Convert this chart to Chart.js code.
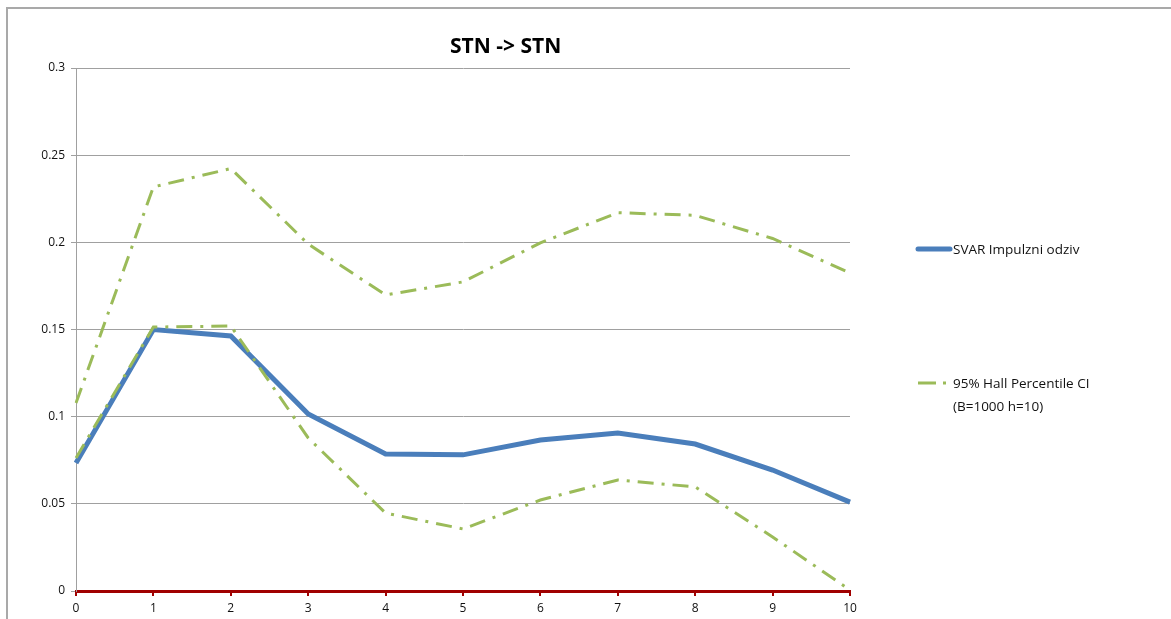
<!DOCTYPE html>
<html lang="sr">
<head>
    <meta charset="UTF-8">
    <title>STN -> STN</title>
    <script src="https://cdn.jsdelivr.net/npm/chart.js"></script>
    <style>
        html, body {
            margin: 0;
            padding: 0;
            background: #fff;
        }
        .wrap {
            position: relative;
            width: 1171px;
            height: 619px;
            overflow: hidden;
        }
        /* okvir grafikona kao u Excelu */
        .frame {
            position: absolute;
            left: 6px;
            top: 7px;
            width: 1300px;
            height: 800px;
            border-left: 2px solid #a9a9a9;
            border-top: 2px solid #a9a9a9;
            pointer-events: none;
        }
    </style>
</head>
<body>
<div class="wrap">
    <canvas id="chart" width="1171" height="619"></canvas>
    <div class="frame"></div>
</div>

<script>
    // podaci
    const periods = ['0', '1', '2', '3', '4', '5', '6', '7', '8', '9', '10'];
    const svar = [0.0734, 0.150, 0.1463, 0.1015, 0.0786, 0.0781, 0.0866, 0.0906, 0.0843, 0.0694, 0.051];
    const ciUpper = [0.1078, 0.2318, 0.2423, 0.1990, 0.1698, 0.1773, 0.1997, 0.2170, 0.2155, 0.2022, 0.1824];
    const ciLower = [0.0763, 0.1514, 0.1520, 0.0878, 0.0447, 0.0356, 0.0522, 0.0637, 0.0597, 0.0310, 0.0006];
    const yTicks = ['0', '0.05', '0.1', '0.15', '0.2', '0.25', '0.3'];

    const titleText = 'STN -> STN';
    const legendItems = [
        {lines: ['SVAR Impulzni odziv'], color: '#4a7ebb', width: 5, dash: []},
        {lines: ['95% Hall Percentile CI', '(B=1000 h=10)'], color: '#9bbb59', width: 3, dash: [18, 7, 3, 7]}
    ];

    const FONT = '"Open Sans", "Noto Sans", sans-serif';
    const CI_DASH = [16, 8, 3, 8];

    // naslov i legenda crtani rucno
    const decorPlugin = {
        id: 'decor',
        afterDraw(chart) {
            const ctx = chart.ctx;
            const area = chart.chartArea;
            ctx.save();

            // naslov
            ctx.fillStyle = '#000';
            ctx.font = 'bold 21px ' + FONT;
            ctx.textAlign = 'center';
            ctx.textBaseline = 'middle';
            ctx.fillText(titleText, area.left + (area.right - area.left) * 0.555, 47);

            // legenda
            const lx = area.right + 66;
            const rows = [area.top + 181, area.top + 315];
            ctx.font = '13.5px ' + FONT;
            ctx.textAlign = 'left';
            legendItems.forEach((item, i) => {
                const y = rows[i];
                ctx.strokeStyle = item.color;
                ctx.lineWidth = item.width;
                ctx.lineCap = item.dash.length ? 'butt' : 'round';
                ctx.setLineDash(item.dash);
                ctx.beginPath();
                ctx.moveTo(lx + 2, y);
                ctx.lineTo(lx + 34, y);
                ctx.stroke();
                ctx.setLineDash([]);
                ctx.fillStyle = '#111';
                item.lines.forEach((t, k) => {
                    ctx.fillText(t, lx + 37, y + 1 + k * 23);
                });
            });
            ctx.restore();
        }
    };

    const ctx = document.getElementById('chart').getContext('2d');
    const chart = new Chart(ctx, {
        type: 'line',
        data: {
            labels: periods,
            datasets: [
                {
                    label: 'SVAR Impulzni odziv',
                    data: svar,
                    borderColor: '#4a7ebb',
                    borderWidth: 5,
                    pointRadius: 0,
                    tension: 0,
                    order: 2
                },
                {
                    label: '95% Hall Percentile CI (B=1000 h=10)',
                    data: ciUpper,
                    borderColor: '#9bbb59',
                    borderWidth: 3,
                    borderDash: CI_DASH,
                    pointRadius: 0,
                    tension: 0,
                    order: 1
                },
                {
                    label: 'lower',
                    data: ciLower,
                    borderColor: '#9bbb59',
                    borderWidth: 3,
                    borderDash: CI_DASH,
                    pointRadius: 0,
                    tension: 0,
                    order: 1
                }
            ]
        },
        options: {
            responsive: false,
            animation: false,
            layout: {
                padding: {left: 0, right: 321, top: 68, bottom: 0}
            },
            plugins: {
                legend: {display: false},
                title: {display: false},
                tooltip: {enabled: false}
            },
            scales: {
                x: {
                    afterFit(scale) { scale.height = 28; },
                    border: {color: '#a00000', width: 3},
                    grid: {
                        drawOnChartArea: false,
                        color: '#a00000',
                        lineWidth: 2,
                        tickLength: 5
                    },
                    ticks: {
                        color: '#111',
                        padding: 5,
                        maxRotation: 0,
                        font: {family: FONT, size: 12}
                    }
                },
                y: {
                    min: 0,
                    max: 0.3,
                    afterFit(scale) { scale.width = 76; },
                    border: {color: '#a0a0a0', width: 1},
                    grid: {
                        color: '#a0a0a0',
                        lineWidth: 1,
                        tickLength: 5
                    },
                    ticks: {
                        stepSize: 0.05,
                        color: '#111',
                        padding: 6,
                        font: {family: FONT, size: 12},
                        callback: (v, i) => yTicks[i]
                    }
                }
            }
        },
        plugins: [decorPlugin]
    });
</script>
</body>
</html>
